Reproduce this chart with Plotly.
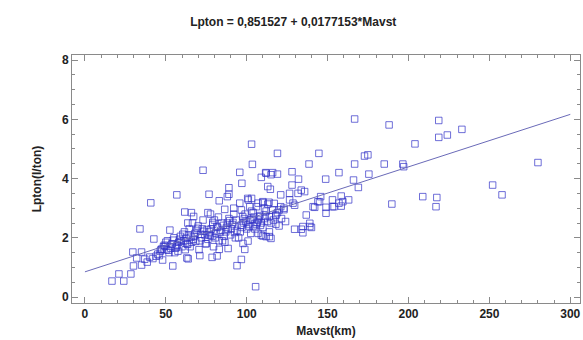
import plotly.graph_objects as go

mavst_a = [16.7, 24, 21, 28.4, 30, 35, 29.6, 35, 32, 34, 40.7, 42.6, 56.8, 52.5, 54.3, 48, 37, 40, 42, 44, 38.5,
           61.7, 63.6, 63, 103.5, 73, 95.7, 97, 109, 112, 115, 113, 114.6, 89, 76.7, 89, 88, 83, 100.6, 101, 95.7,
           107, 110, 113.8, 65.8, 76, 77.6, 86.4, 92, 96.7, 101.9, 116, 63.8, 71, 78.6, 81.7, 96.7, 94, 83, 88.5,
           97.7, 100.8, 98.8, 109, 112]
lpton_a = [0.54, 0.54, 0.78, 0.78, 1.05, 1.08, 1.52, 1.52, 1.32, 2.3, 3.18, 1.96, 3.45, 2.26, 1.05, 1.25, 1.28, 1.35, 1.3, 1.38, 1.18,
           2.87, 2.5, 1.32, 4.48, 4.28, 4.21, 3.84, 4.04, 4.18, 4.13, 3.73, 3.64, 3.69, 3.47, 3.47, 3.39, 3.25, 3.33, 3.28, 3.17,
           3.17, 3.19, 3.2, 2.85, 2.85, 2.8, 2.96, 3.0, 2.94, 3.05, 2.94, 1.29, 1.4, 1.34, 1.39, 1.27, 1.06, 1.61, 1.64,
           1.81, 1.89, 1.61, 2.09, 2.04]

mavst_b = [103, 119, 144.6, 138.5, 157, 148.8, 111.7, 116, 119, 128, 132, 128, 133.7, 135.8, 131.7, 126.5, 121, 103,
           110, 113, 117, 126.5, 128.6, 145, 153, 157, 159.4, 142, 149, 153, 149, 129.6, 121, 123, 120, 106, 111, 118,
           114, 104, 108, 136.8, 139, 139, 140, 129.6, 133.7, 134.7, 134.7, 118, 107, 110, 114, 115]
lpton_b = [5.16, 4.85, 4.85, 4.49, 4.2, 3.98, 4.2, 4.2, 4.15, 4.23, 3.98, 3.78, 3.61, 3.56, 3.5, 3.5, 3.45, 3.33,
           3.22, 3.14, 3.16, 3.28, 3.17, 3.22, 3.28, 3.17, 3.22, 3.03, 3.03, 3.05, 2.83, 3.1, 3.05, 3.0, 2.94, 3.05, 3.0, 2.77,
           2.71, 2.85, 2.71, 2.77, 2.49, 2.38, 2.35, 2.29, 2.29, 2.38, 2.17, 2.46, 2.15, 2.06, 2.04, 1.98]

mavst_c = [166.7, 188, 218.7, 204, 218.7, 172.8, 174.9, 166.7, 185, 196.5, 197, 175.5, 166, 169, 208.8, 217.5, 217,
           189.7, 145.7, 158.4, 163, 154, 158.4, 141, 144, 224, 233, 280, 252, 257.8, 105.5]
lpton_c = [6.01, 5.81, 5.96, 5.17, 5.39, 4.76, 4.8, 4.49, 4.49, 4.49, 4.4, 4.15, 3.95, 3.7, 3.39, 3.36, 3.05,
           3.14, 3.39, 3.41, 3.28, 3.05, 3.07, 3.05, 3.22, 5.47, 5.66, 4.54, 3.78, 3.45, 0.35]

# Dense core of the cloud
mavst_d = [45, 46.5, 47, 48.5, 49, 50, 51, 52, 53, 54, 55, 46, 50.5,
           55.5, 56, 57, 58, 58.5, 59, 60, 61, 61.5, 62, 63, 64, 64.5, 57.5,
           65, 66, 67, 67.5, 68, 69, 70, 70.5, 71, 72, 72.5, 73, 74, 74.5, 66.5,
           75, 76, 76.5, 77, 78, 79, 80, 80.5, 81, 82, 82.5, 83, 84, 84.5, 78.5, 79.5,
           85, 86, 87, 87.5, 88, 89, 90, 90.5, 91, 92, 93, 93.5, 94, 86.5,
           95, 96, 97, 98, 98.5, 99, 100, 101, 102, 102.5, 103, 104, 104.5,
           105, 106, 107, 108, 109, 110, 111, 112, 113, 114,
           115, 116.5, 118, 119, 120, 121.5, 123, 124]
lpton_d = [1.45, 1.55, 1.6, 1.7, 1.75, 1.85, 1.9, 1.5, 1.65, 1.8, 2.0, 1.4, 1.6,
           1.5, 1.65, 1.75, 1.85, 1.95, 2.05, 1.7, 1.9, 2.2, 1.6, 1.8, 2.1, 2.3, 1.55,
           1.7, 1.85, 1.95, 2.05, 2.15, 2.25, 2.4, 1.6, 1.9, 2.0, 2.3, 2.6, 2.1, 1.8, 2.5,
           1.8, 1.95, 2.1, 2.2, 2.3, 2.45, 2.6, 2.0, 2.15, 2.35, 2.7, 1.9, 2.25, 2.5, 2.05, 1.7,
           1.9, 2.05, 2.2, 2.35, 2.5, 2.65, 2.1, 2.3, 2.45, 2.8, 2.0, 2.6, 2.25, 1.85,
           2.0, 2.2, 2.35, 2.5, 2.65, 2.8, 2.3, 2.45, 2.6, 2.15, 2.9, 2.4, 2.7,
           2.3, 2.45, 2.6, 2.75, 2.5, 2.35, 2.65, 2.9, 2.55, 2.2,
           2.5, 2.6, 2.75, 2.85, 2.4, 2.65, 2.95, 2.55]

# Second pass over the core band
mavst_e = [47.5, 49.5, 51.5, 53.5, 56.5, 59.5, 62.5, 65.5, 68.5, 71.5, 73.5, 75.5, 77.5, 81.5, 83.5, 85.5, 88.5,
           91.5, 92.5, 96.5, 99.5, 101.5, 103.5, 106.5, 108.5, 111.5, 54.5, 60.5, 69.5, 79, 89.5, 97.5, 63.5, 67.2]
lpton_e = [1.62, 1.72, 1.58, 1.78, 1.68, 1.88, 1.98, 2.02, 1.88, 2.12, 2.22, 2.28, 2.08, 2.38, 2.18, 2.42, 2.28,
           2.52, 2.18, 2.42, 2.55, 2.38, 2.62, 2.52, 2.42, 2.72, 1.92, 2.12, 2.32, 2.52, 2.58, 2.72, 1.78, 2.72]

intercept = 0.851527
slope = 0.0177153
line_x = [0, 300]

mavst = mavst_a + mavst_b + mavst_c + mavst_d + mavst_e
lpton = lpton_a + lpton_b + lpton_c + lpton_d + lpton_e

fig = go.Figure()
fig.add_trace(go.Scatter(
    x=mavst, y=lpton, mode="markers",
    marker=dict(symbol="square-open", size=6.5, color="rgba(50,50,200,0.7)", line=dict(width=1)),
    showlegend=False))
fig.add_trace(go.Scatter(
    x=line_x, y=[intercept + slope * v for v in line_x], mode="lines",
    line=dict(color="#6a6ab8", width=1), showlegend=False))

axis_common = dict(
    showline=True, linecolor="#8a8a8a", linewidth=1, mirror="ticks",
    ticks="inside", ticklen=6, tickcolor="#8a8a8a", showgrid=False, zeroline=False,
    tickfont=dict(family="Liberation Sans, Arial", size=12, color="#222", weight="bold"),
)

fig.update_layout(
    width=583, height=340,
    margin=dict(l=72, r=3, t=55, b=37),
    paper_bgcolor="white", plot_bgcolor="white",
    title=dict(text="Lpton = 0,851527 + 0,0177153*Mavst", x=0.503, xanchor="center",
               y=1 - 22 / 340, yref="container", yanchor="middle",
               font=dict(family="Liberation Sans, Arial", size=12, color="#222", weight="bold")),
    xaxis=dict(range=[-8, 306], tickvals=[0, 50, 100, 150, 200, 250, 300],
               minor=dict(dtick=10, tick0=0, ticks="inside", ticklen=3, tickcolor="#8a8a8a"),
               title=dict(text="Mavst(km)", standoff=6,
                          font=dict(family="Liberation Sans, Arial", size=12, color="#222", weight="bold")),
               **axis_common),
    yaxis=dict(range=[-0.2, 8.17], tickvals=[0, 2, 4, 6, 8],
               minor=dict(dtick=0.5, tick0=0, ticks="inside", ticklen=3, tickcolor="#8a8a8a"),
               title=dict(text="Lpton(l/ton)", standoff=17,
                          font=dict(family="Liberation Sans, Arial", size=12, color="#222", weight="bold")),
               **axis_common),
)

fig.write_html("out.html")
